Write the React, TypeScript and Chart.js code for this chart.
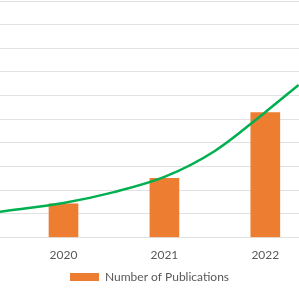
import React, { useEffect, useRef } from "react";
import { Chart, registerables } from "chart.js";

Chart.register(...registerables);

const years = [2020, 2021, 2022];
const publications = [14.2, 25.0, 52.8];
const trendYears = [2019.37, 2020.0, 2020.5, 2021.0, 2021.5, 2022.0, 2022.33];
const trendValues = [10.9, 14.6, 19.2, 25.6, 36.6, 53.0, 64.5];
const xMin = 2019.3707;
const xMax = 2022.334;
const yMax = 100;
const yStep = 10;
const seriesLabel = "Number of Publications";

const FONT = "Lato, 'Open Sans', sans-serif";
const TEXT = "#595959";

export default function App() {
  const ref = useRef<HTMLCanvasElement | null>(null);
  useEffect(() => {
    if (!ref.current) return;
    const chart = new Chart(ref.current, {
      type: "bar",
      data: {
        datasets: [
          {
            type: "line",
            label: "Trend",
            data: trendYears.map((x, i) => ({ x, y: trendValues[i] })),
            borderColor: "#00B050",
            borderWidth: 2.5,
            pointRadius: 0,
            cubicInterpolationMode: "monotone",
            fill: false,
          } as any,
          {
            type: "bar",
            label: seriesLabel,
            data: years.map((x, i) => ({ x, y: publications[i] })),
            backgroundColor: "#ED7D31",
            borderWidth: 0,
            barThickness: 29,
          } as any,
        ],
      },
      options: {
        animation: false,
        responsive: true,
        maintainAspectRatio: false,
        layout: { padding: { top: 1, left: 0, right: 0, bottom: 0 } },
        plugins: {
          tooltip: { enabled: false },
          legend: {
            position: "bottom",
            labels: {
              filter: (item: any) => item.text === seriesLabel,
              boxWidth: 29,
              boxHeight: 8,
              padding: 0,
              color: TEXT,
              font: { family: FONT, size: 12 },
            },
          },
        },
        scales: {
          x: {
            type: "linear",
            min: xMin,
            max: xMax,
            offset: false,
            grid: { display: false, drawTicks: false },
            border: { display: false },
            afterBuildTicks: (axis: any) => {
              axis.ticks = years.map((v) => ({ value: v }));
            },
            afterFit: (axis: any) => {
              axis.height = 33.5;
            },
            ticks: {
              padding: 10,
              color: TEXT,
              font: { family: FONT, size: 12 },
              maxRotation: 0,
              autoSkip: false,
              callback: (v: any) => String(v),
            },
          },
          y: {
            min: 0,
            max: yMax,
            ticks: { display: false, stepSize: yStep },
            grid: { color: "#e2e2e2", lineWidth: 1, drawTicks: false },
            border: { display: false },
          },
        },
      } as any,
    });
    return () => chart.destroy();
  }, []);
  return (
    <div style={{ position: "absolute", left: 0, top: 0, width: 299, height: 293, background: "#fff" }}>
      <canvas ref={ref} />
    </div>
  );
}
